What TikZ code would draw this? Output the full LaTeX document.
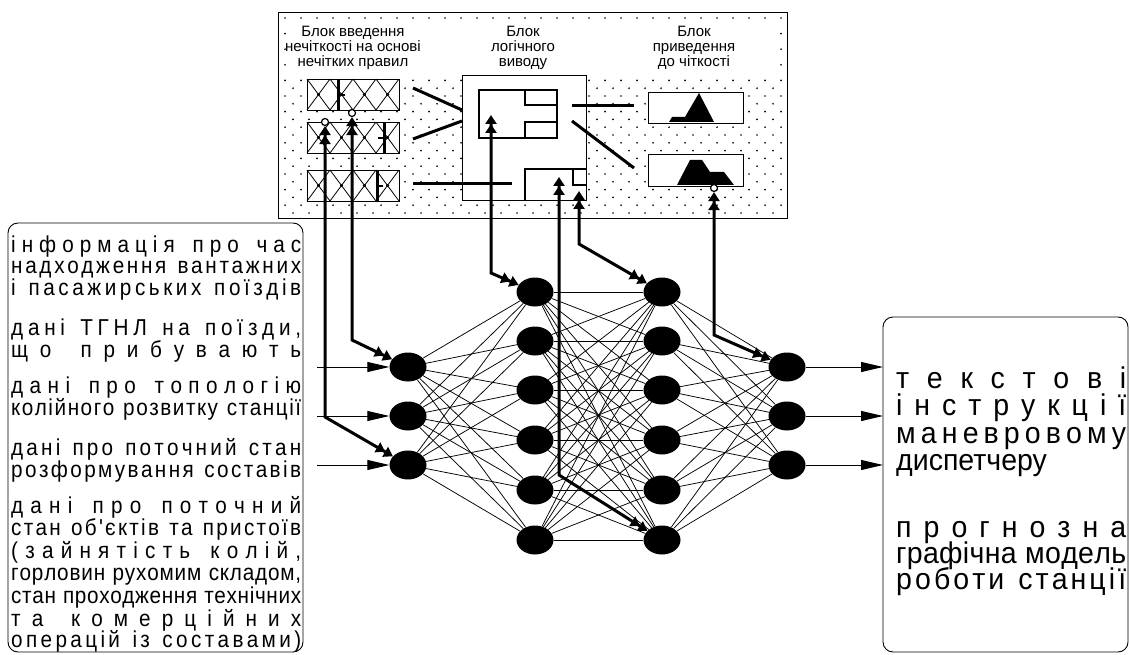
\documentclass[tikz,border=0pt]{standalone}
\usepackage{fontspec}
\setmainfont{Liberation Sans}
\newfontfamily\narrowfont[FakeStretch=0.9]{Liberation Sans}
\newfontfamily\rfont[FakeStretch=0.95]{Liberation Sans}
\usetikzlibrary{arrows.meta,shapes.geometric}
\ExplSyntaxOn
\seq_new:N \l__dst_seq
\bool_new:N \l__dst_bool
\tl_new:N \l__dst_tl
\cs_new_protected:Npn \__dst_word:n #1
  {
    \tl_head:n {#1}
    \tl_set:Nx \l__dst_tl { \tl_tail:n {#1} }
    \tl_map_inline:Nn \l__dst_tl { \hfil ##1 }
  }
\NewDocumentCommand \dist { m m }
  {
    \raisebox{0pt}[0.72em][0.12em]{
    \hbox_to_wd:nn {#1}
      {
        \seq_set_split:Nnn \l__dst_seq { ~ } {#2}
        \bool_set_true:N \l__dst_bool
        \seq_map_inline:Nn \l__dst_seq
          {
            \bool_if:NF \l__dst_bool { \hfil \hskip \fontdimen2\font \scan_stop: \hfil }
            \bool_set_false:N \l__dst_bool
            \__dst_word:n {##1}
          }
      }
    }
  }
\ExplSyntaxOff
\begin{document}
\begin{tikzpicture}[x=1pt,y=-1pt,
  neuron/.style={shape=ellipse,fill=black,minimum width=37pt,minimum height=29pt,inner sep=0pt},
  syn/.style={line width=0.75pt},
  ctrl/.style={line width=3pt},
  link/.style={line width=3pt},
  blk/.style={draw,line width=1.3pt,fill=white,inner sep=0pt,anchor=north west},
  mk/.style={circle,draw,fill=white,line width=1.2pt,minimum size=7pt,inner sep=0pt},
  ttl/.style={align=center,font=\fontsize{15}{15}\selectfont,inner sep=0pt},
  ltxt/.style={anchor=base west,inner sep=0pt,font=\narrowfont\fontsize{23}{22}\selectfont},
  rtxt/.style={anchor=base west,inner sep=0pt,font=\rfont\fontsize{30}{27}\selectfont},
  ctl/.tip={Triangle[length=9pt,width=11pt] Triangle[length=9pt,width=11pt]},
  iot/.tip={Triangle[length=22pt,width=10pt]}
]
\useasboundingbox (0,0) rectangle (1130,655);

% ---------- upper block: background with dots ----------
\node[draw,line width=1.4pt,anchor=north west,minimum width=509pt,minimum height=206pt,inner sep=0pt] (top) at (278,12) {};
\begin{scope}
  \clip (280,14) rectangle (785,216);
  \foreach \j in {0,...,25}{
    \pgfmathtruncatemacro\odd{mod(\j,2)}
    \foreach \i in {0,...,31}{
      \fill ({285+8*\odd+16*\i},{18+7.8*\j}) circle (0.95);
    }
  }
\end{scope}
\fill[white] (290,21) rectangle (780,75);

\node[ttl] (tf) at (353,48) {Блок введення\\нечіткості на основі\\нечітких правил};
\node[ttl] (ti) at (523,48) {Блок\\логічного\\виводу};
\node[ttl] (td) at (694,48) {Блок\\приведення\\до чіткості};

% fuzzification blocks
\foreach \t/\nm in {79/f1,122/f2,170/f3}{
  \node[blk,minimum width=92pt,minimum height=31pt] (\nm) at (307,\t) {};
  \foreach \k in {0,...,3}{
    \draw[line width=0.8pt] ({307+23*\k},\t) -- ++(23,31) ({330+23*\k},\t) -- ++(-23,31);
    \fill ({318.5+23*\k},{\t+15.5}) circle (1.6);
  }
}
\draw[line width=3pt] (338,79) -- (338,110);
\draw[line width=2.5pt] (338,95) -- (345,95);
\draw[line width=3pt] (384,122) -- (384,153);
\draw[line width=2.5pt] (378,138) -- (384,138);
\draw[line width=3pt] (377,170) -- (377,201);
\draw[line width=2.5pt] (377,186) -- (383,186);

% inference block
\node[blk,minimum width=124pt,minimum height=125pt] (inf) at (462,75) {};
\draw[line width=1.2pt] (479,90) rectangle (557,138);
\draw[line width=1.2pt] (525,90) -- (525,105) -- (557,105);
\draw[line width=1.2pt] (557,122) -- (525,122) -- (525,138);
\draw[line width=1.2pt] (525,200) -- (525,169) -- (586,169);
\draw[line width=1.2pt] (573,169) -- (573,185) -- (586,185);

% defuzzification blocks
\node[blk,minimum width=95pt,minimum height=31pt] (d1b) at (648,92) {};
\node[blk,minimum width=95pt,minimum height=32pt] (d2b) at (648,154) {};
\fill (669,122) -- (672,117) -- (685,117) -- (699,93) -- (714,122) -- cycle;
\fill (677,185) -- (690,160) -- (702,160) -- (710,172) -- (724,172) -- (734,185) -- cycle;

% links inside upper block
\coordinate (l1a) at (413,88);  \coordinate (l1b) at (462,110);
\coordinate (l2a) at (413,139); \coordinate (l2b) at (462,121);
\coordinate (l3a) at (413,184); \coordinate (l3b) at (512,184);
\coordinate (l4a) at (572,106); \coordinate (l4b) at (634,106);
\coordinate (l5a) at (572,121); \coordinate (l5b) at (634,168);
\draw[link] (l1a) -- (l1b);
\draw[link] (l2a) -- (l2b);
\draw[link] (l3a) -- (l3b);
\draw[link] (l4a) -- (l4b);
\draw[link] (l5a) -- (l5b);

% ---------- neural network ----------
\foreach \n/\y in {1/367,2/416,3/465}{
  \node[neuron] (a\n) at (408,\y) {};
  \node[neuron] (d\n) at (787,\y) {};
}
\foreach \n/\y in {1/292,2/341,3/390,4/440,5/490,6/540}{
  \node[neuron] (b\n) at (535,\y) {};
  \node[neuron] (c\n) at (662,\y) {};
}
\foreach \i in {1,2,3}{\foreach \j in {1,...,6}{\draw[syn] (a\i) -- (b\j);}}
\foreach \i in {1,...,6}{\foreach \j in {1,...,6}{\draw[syn] (b\i) -- (c\j);}}
\foreach \i in {1,...,6}{\foreach \j in {1,2,3}{\draw[syn] (c\i) -- (d\j);}}

% inputs and outputs
\foreach \n/\y in {1/367,2/416,3/465}{
  \coordinate (in\n) at (317,\y);
  \coordinate (out\n) at (883,\y);
  \draw[line width=1pt,-iot] (in\n) -- (a\n);
  \draw[line width=1pt,-iot] (d\n) -- (out\n);
}

% control connections
\node[mk] (mA) at (325,122) {};
\node[mk] (mB) at (352,113) {};
\node[mk] (mF) at (714,188) {};
\coordinate (bA) at (325,417);
\coordinate (bB) at (352,340);
\coordinate (tC) at (491,115); \coordinate (bC) at (491,273);
\coordinate (tD) at (559,177); \coordinate (bD) at (559,475);
\coordinate (tE) at (579,191); \coordinate (bE) at (579,244);
\coordinate (bF) at (714,335);
\draw[ctrl,ctl-ctl] (mA) -- (bA) -- (a3);
\draw[ctrl,ctl-ctl] (mB) -- (bB) -- (a1);
\draw[ctrl,ctl-ctl] (tC) -- (bC) -- (b1);
\draw[ctrl,ctl-ctl] (tD) -- (bD) -- (c6);
\draw[ctrl,ctl-ctl] (tE) -- (bE) -- (c1);
\draw[ctrl,ctl-ctl] (mF) -- (bF) -- (d1);

% ---------- left text box ----------
\draw[rounded corners=10pt,line width=0.9pt] (8,223) rectangle (303,652);
\node[ltxt] (L1) at (11,252) {\dist{290pt}{інформація про час}};
\node[ltxt] (L2) at (11,273) {\dist{290pt}{надходження вантажних}};
\node[ltxt] (L3) at (11,295) {\dist{290pt}{і пасажирських поїздів}};
\node[ltxt] (L4) at (11,335) {\dist{290pt}{дані ТГНЛ на поїзди,}};
\node[ltxt] (L5) at (11,357) {\dist{290pt}{що прибувають}};
\node[ltxt] (L6) at (11,393) {\dist{290pt}{дані про топологію}};
\node[ltxt] (L7) at (11,415) {\dist{290pt}{колійного розвитку станції}};
\node[ltxt] (L8) at (11,455) {\dist{290pt}{дані про поточний стан}};
\node[ltxt] (L9) at (11,477) {\dist{290pt}{розформування составів}};
\node[ltxt] (L10) at (11,513) {\dist{290pt}{дані про поточний}};
\node[ltxt] (L11) at (11,535) {\dist{290pt}{стан об'єктів та пристоїв}};
\node[ltxt] (L12) at (11,558) {\dist{290pt}{(зайнятість колій,}};
\node[ltxt] (L13) at (11,580) {\dist{290pt}{горловин рухомим складом,}};
\node[ltxt] (L14) at (11,603) {\dist{290pt}{стан проходження технічних}};
\node[ltxt] (L15) at (11,626) {\dist{290pt}{та комерційних}};
\node[ltxt] (L16) at (11,647) {\dist{290pt}{операцій із составами)}};

% ---------- right text box ----------
\draw[rounded corners=10pt,line width=0.9pt] (883,317) rectangle (1128,652);
\node[rtxt] (R1) at (896,388) {\dist{230pt}{текстові}};
\node[rtxt] (R2) at (896,415) {\dist{230pt}{інструкції}};
\node[rtxt] (R3) at (896,443) {\dist{230pt}{маневровому}};
\node[rtxt] (R4) at (896,470) {\raisebox{0pt}[0.72em][0.12em]{диспетчеру}};
\node[rtxt] (R5) at (896,537) {\dist{230pt}{прогнозна}};
\node[rtxt] (R6) at (896,563) {\dist{230pt}{графічна модель}};
\node[rtxt] (R7) at (896,589) {\dist{230pt}{роботи станції}};
\end{tikzpicture}
\end{document}
